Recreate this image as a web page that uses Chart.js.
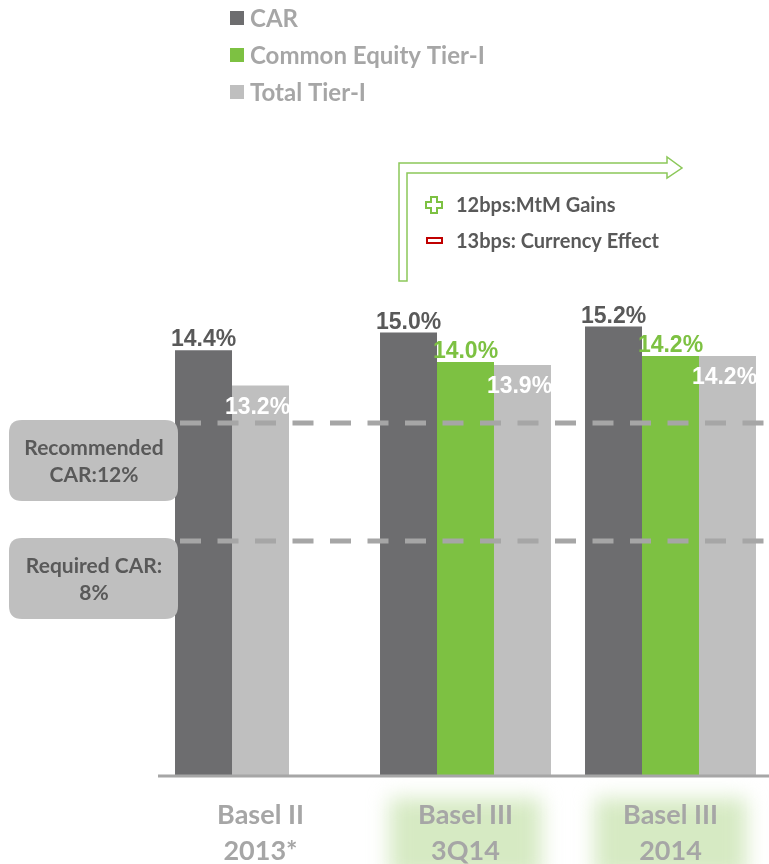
<!DOCTYPE html>
<html>
<head>
<meta charset="utf-8">
<style>
  html, body { margin: 0; padding: 0; background: #fff; overflow: hidden; }
  #capitalChart { display: block; }
</style>
<script src="https://cdn.jsdelivr.net/npm/chart.js@4/dist/chart.umd.min.js"></script>
</head>
<body>
<canvas id="capitalChart" width="776" height="864"></canvas>
<script>
const categories = [['Basel II', '2013*'], ['Basel III', '3Q14'], ['Basel III', '2014']];
const seriesNames = ['CAR', 'Common Equity Tier-I', 'Total Tier-I'];
const carValues = [14.4, 15.0, 15.2];
const cet1Values = [null, 14.0, 14.2];
const totalTier1Values = [13.2, 13.9, 14.2];
const thresholdValues = [12, 8];
const thresholdLabels = [['Recommended', 'CAR:12%'], ['Required CAR:', '8%']];
const bridgeNotes = ['12bps:MtM Gains', '13bps: Currency Effect'];
const highlightedCategories = [false, true, true];

const colors = {
  car: '#6d6d6f',
  cet1: '#7dc142',
  total: '#bfbfbf',
  text: '#595959',
  muted: '#a6a6a6',
};

const labelFont = 'bold 23px "Liberation Sans", Arial, sans-serif';
const textFont = (size) => `bold ${size}px Lato, "Open Sans", sans-serif`;

// where there is no CET1 figure, Total Tier-I moves into the middle slot
const totalMid = totalTier1Values.map((v, i) => (cet1Values[i] == null ? v : null));
const totalSide = totalTier1Values.map((v, i) => (cet1Values[i] == null ? null : v));

function formatPct(v) {
  return `${v.toFixed(1)}%`;
}

function roundRect(ctx, x, y, w, h, r) {
  ctx.beginPath();
  ctx.moveTo(x + r, y);
  ctx.lineTo(x + w - r, y);
  ctx.quadraticCurveTo(x + w, y, x + w, y + r);
  ctx.lineTo(x + w, y + h - r);
  ctx.quadraticCurveTo(x + w, y + h, x + w - r, y + h);
  ctx.lineTo(x + r, y + h);
  ctx.quadraticCurveTo(x, y + h, x, y + h - r);
  ctx.lineTo(x, y + r);
  ctx.quadraticCurveTo(x, y, x + r, y);
  ctx.closePath();
}

const decorations = {
  id: 'decorations',
  beforeDatasetsDraw(chart) {
    const { ctx, scales } = chart;
    const x = scales.x;

    // soft green glow under the Basel III labels
    ctx.save();
    ctx.filter = 'blur(10px)';
    ctx.fillStyle = '#d6eac3';
    categories.forEach((cat, i) => {
      if (!highlightedCategories[i]) return;
      const cx = x.getPixelForValue(i);
      ctx.fillRect(cx - 76, 798, 152, 80);
    });
    ctx.restore();

    // category labels
    ctx.save();
    ctx.fillStyle = colors.muted;
    ctx.font = textFont(27);
    ctx.textAlign = 'center';
    ctx.textBaseline = 'middle';
    categories.forEach((lines, i) => {
      const cx = x.getPixelForValue(i);
      lines.forEach((line, k) => ctx.fillText(line, cx, 815 + k * 36));
    });
    ctx.restore();
  },
  afterDatasetsDraw(chart) {
    const { ctx, scales } = chart;
    const y = scales.y;
    const zeroY = y.getPixelForValue(0);

    // x axis line
    ctx.save();
    ctx.strokeStyle = colors.muted;
    ctx.lineWidth = 3;
    ctx.beginPath();
    ctx.moveTo(158, zeroY + 1);
    ctx.lineTo(769, zeroY + 1);
    ctx.stroke();
    ctx.restore();

    // regulatory thresholds
    thresholdValues.forEach((v, i) => {
      const ty = y.getPixelForValue(v);
      ctx.save();
      ctx.strokeStyle = colors.muted;
      ctx.lineWidth = 5;
      ctx.setLineDash([21, 16.5]);
      ctx.beginPath();
      ctx.moveTo(180, ty + 2);
      ctx.lineTo(769, ty + 2);
      ctx.stroke();
      ctx.restore();

      ctx.save();
      roundRect(ctx, 9, ty - 1, 169, 81, 13);
      ctx.fillStyle = colors.total;
      ctx.fill();
      ctx.fillStyle = colors.text;
      ctx.font = textFont(21);
      ctx.textAlign = 'center';
      ctx.textBaseline = 'middle';
      thresholdLabels[i].forEach((line, k) => ctx.fillText(line, 94, ty + 27 + k * 27));
      ctx.restore();
    });

    // value labels
    ctx.save();
    ctx.font = labelFont;
    ctx.textAlign = 'center';
    ctx.textBaseline = 'alphabetic';
    chart.data.datasets.forEach((ds, di) => {
      const meta = chart.getDatasetMeta(di);
      meta.data.forEach((bar, j) => {
        const v = ds.data[j];
        if (v == null) return;
        if (ds.labelMode === 'inside') {
          ctx.fillStyle = '#ffffff';
          ctx.fillText(formatPct(v), bar.x - 3, bar.y + 28);
        } else {
          ctx.fillStyle = ds.labelColor;
          ctx.fillText(formatPct(v), bar.x, bar.y - 4);
        }
      });
    });
    ctx.restore();
  },
  afterDraw(chart) {
    const { ctx } = chart;

    // legend
    ctx.save();
    const swatches = [colors.car, colors.cet1, colors.total];
    ctx.font = textFont(24);
    ctx.textBaseline = 'middle';
    seriesNames.forEach((name, i) => {
      const cy = 18 + i * 37;
      ctx.fillStyle = swatches[i];
      ctx.fillRect(230, cy - 7, 14, 14);
      ctx.fillStyle = colors.muted;
      ctx.fillText(name, 250, cy + 1);
    });
    ctx.restore();

    // bent arrow from Basel II to Basel III
    ctx.save();
    ctx.strokeStyle = '#8cc85a';
    ctx.lineWidth = 1.5;
    ctx.beginPath();
    ctx.moveTo(399, 281);
    ctx.lineTo(399, 163);
    ctx.lineTo(667, 163);
    ctx.lineTo(667, 157);
    ctx.lineTo(682, 168);
    ctx.lineTo(667, 178);
    ctx.lineTo(667, 173);
    ctx.lineTo(407, 173);
    ctx.lineTo(407, 281);
    ctx.closePath();
    ctx.stroke();

    // plus / minus markers
    ctx.strokeStyle = '#7dc142';
    ctx.lineWidth = 2;
    const px = 434, py = 205, a = 8, t = 3;
    ctx.beginPath();
    ctx.moveTo(px - t, py - a);
    ctx.lineTo(px + t, py - a);
    ctx.lineTo(px + t, py - t);
    ctx.lineTo(px + a, py - t);
    ctx.lineTo(px + a, py + t);
    ctx.lineTo(px + t, py + t);
    ctx.lineTo(px + t, py + a);
    ctx.lineTo(px - t, py + a);
    ctx.lineTo(px - t, py + t);
    ctx.lineTo(px - a, py + t);
    ctx.lineTo(px - a, py - t);
    ctx.lineTo(px - t, py - t);
    ctx.closePath();
    ctx.stroke();

    ctx.strokeStyle = '#c00000';
    ctx.strokeRect(427, 238, 15, 5);

    ctx.fillStyle = colors.text;
    ctx.font = textFont(20);
    ctx.textBaseline = 'middle';
    ctx.fillText(bridgeNotes[0], 456, 206);
    ctx.fillText(bridgeNotes[1], 456, 242);
    ctx.restore();
  },
};

const barStyle = {
  borderWidth: 0,
  categoryPercentage: 0.834,
  barPercentage: 1,
};

new Chart(document.getElementById('capitalChart'), {
  type: 'bar',
  data: {
    labels: categories.map((c) => c.join(' ')),
    datasets: [
      { label: seriesNames[0], data: carValues, backgroundColor: colors.car, stack: 'car', labelColor: colors.text, ...barStyle },
      { label: seriesNames[1], data: cet1Values, backgroundColor: colors.cet1, stack: 'mid', labelColor: colors.cet1, ...barStyle },
      { label: seriesNames[2], data: totalMid, backgroundColor: colors.total, stack: 'mid', labelMode: 'inside', ...barStyle },
      { label: seriesNames[2], data: totalSide, backgroundColor: colors.total, stack: 'total', labelMode: 'inside', ...barStyle },
    ],
  },
  options: {
    responsive: false,
    animation: false,
    devicePixelRatio: 1,
    layout: { padding: { left: 158, right: 3, top: 185, bottom: 89 } },
    plugins: {
      legend: { display: false },
      tooltip: { enabled: false },
    },
    scales: {
      x: { display: false },
      y: { display: false, min: 0, max: 20, stacked: false },
    },
  },
  plugins: [decorations],
});
</script>
</body>
</html>
